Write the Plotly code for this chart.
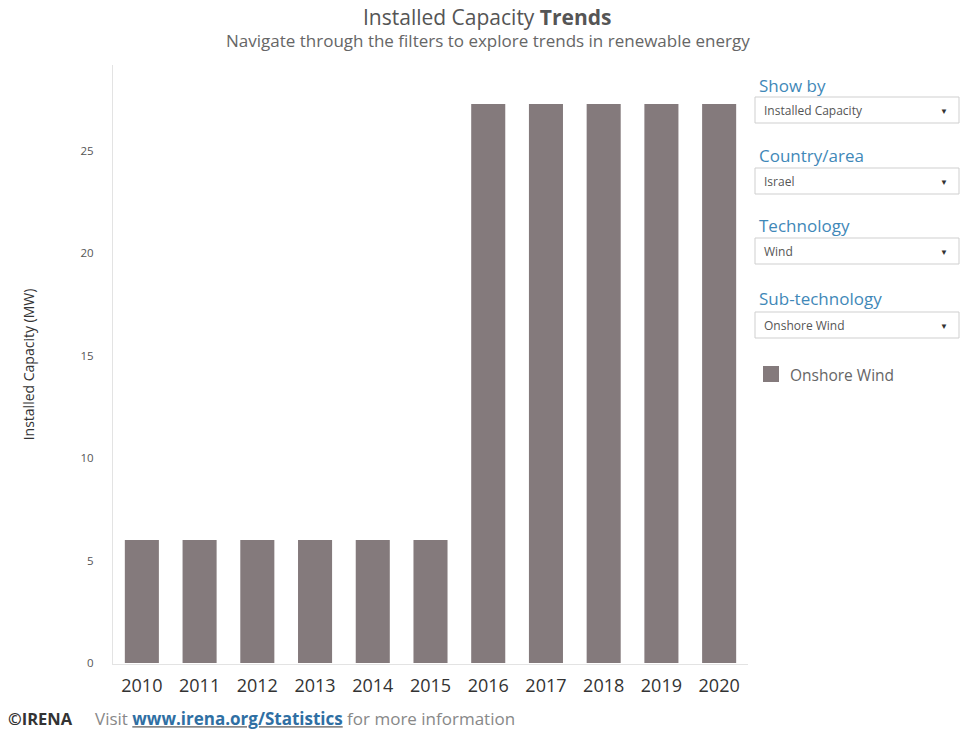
import plotly.graph_objects as go

years = ["2010", "2011", "2012", "2013", "2014", "2015", "2016", "2017", "2018", "2019", "2020"]
capacity_mw = [6, 6, 6, 6, 6, 6, 27.3, 27.3, 27.3, 27.3, 27.3]
series_name = "Onshore Wind"
y_ticks = [0, 5, 10, 15, 20, 25]

filters = [
    ("Show by", "Installed Capacity"),
    ("Country/area", "Israel"),
    ("Technology", "Wind"),
    ("Sub-technology", "Onshore Wind"),
]

W, H = 960, 731
L, R, T, B = 113, 748, 65, 664
FONT = "Open Sans"
BAR = "#847a7c"


def px(x):
    return (x - L) / (R - L)


def py(y):
    return (B - y) / (B - T)


fig = go.Figure()
fig.add_trace(go.Bar(
    x=years, y=capacity_mw, name=series_name,
    marker=dict(color=BAR, line=dict(width=0)),
    width=0.59, showlegend=False,
))

annotations = []
shapes = []

# Filter panel
label_y = [86, 156, 225, 298]
box_top = [97, 168, 238, 312]
box_h = 26
for (lab, val), ly, bt in zip(filters, label_y, box_top):
    annotations.append(dict(
        text=lab, xref="paper", yref="paper", x=px(757), y=py(ly),
        xanchor="left", yanchor="middle", showarrow=False,
        font=dict(family=FONT, size=17, color="#3f88b8"),
    ))
    shapes.append(dict(
        type="rect", xref="paper", yref="paper",
        x0=px(755), x1=px(959), y0=py(bt), y1=py(bt + box_h),
        line=dict(color="#cfcfcf", width=1), fillcolor="white", layer="above",
    ))
    annotations.append(dict(
        text=val, xref="paper", yref="paper", x=px(762), y=py(bt + box_h / 2),
        xanchor="left", yanchor="middle", showarrow=False,
        font=dict(family=FONT, size=12, color="#555555"),
    ))
    annotations.append(dict(
        text="▼", xref="paper", yref="paper", x=px(944), y=py(bt + box_h / 2),
        xanchor="center", yanchor="middle", showarrow=False,
        font=dict(family=FONT, size=8, color="#333333"),
    ))

# Legend (swatch + label)
shapes.append(dict(
    type="rect", xref="paper", yref="paper",
    x0=px(763), x1=px(779), y0=py(366), y1=py(382),
    line=dict(width=0), fillcolor=BAR, layer="above",
))
annotations.append(dict(
    text=series_name, xref="paper", yref="paper", x=px(788), y=py(375),
    xanchor="left", yanchor="middle", showarrow=False,
    font=dict(family=FONT, size=15.5, color="#666666"),
))

# Title and subtitle
annotations.append(dict(
    text="Installed Capacity <b>Trends</b>", xref="paper", yref="paper",
    x=px(487), y=py(17), xanchor="center", yanchor="middle", showarrow=False,
    font=dict(family=FONT, size=21, color="#555555"),
))
annotations.append(dict(
    text="Navigate through the filters to explore trends in renewable energy",
    xref="paper", yref="paper", x=px(488), y=py(41), xanchor="center",
    yanchor="middle", showarrow=False,
    font=dict(family=FONT, size=17, color="#666666"),
))

# Footer
annotations.append(dict(
    text="<b>©IRENA</b>", xref="paper", yref="paper", x=px(6), y=py(718),
    xanchor="left", yanchor="middle", showarrow=False,
    font=dict(family=FONT, size=16.5, color="#333333"),
))
annotations.append(dict(
    text="Visit <b><u><span style='color:#2f6fa3'>www.irena.org/Statistics</span></u></b> for more information",
    xref="paper", yref="paper", x=px(93), y=py(718),
    xanchor="left", yanchor="middle", showarrow=False,
    font=dict(family=FONT, size=17, color="#888888"),
))

fig.update_layout(
    width=W, height=H,
    margin=dict(l=L, r=W - R, t=T, b=H - B, pad=0),
    paper_bgcolor="white", plot_bgcolor="white",
    font=dict(family=FONT, color="#555555"),
    bargap=0.41,
    annotations=annotations,
    shapes=shapes,
    showlegend=False,
    xaxis=dict(
        type="category", showgrid=False, showline=True, linecolor="#e3e3e3",
        linewidth=1, ticks="", tickfont=dict(family=FONT, size=18, color="#333333"),
        ticklabelstandoff=5, zeroline=False, fixedrange=True,
    ),
    yaxis=dict(
        range=[-0.05, 29.2], tickvals=y_ticks, showgrid=False, showline=True,
        linecolor="#e3e3e3", linewidth=1, ticks="", zeroline=False,
        tickfont=dict(family=FONT, size=11.5, color="#555555"),
        ticklabelstandoff=16,
        title=dict(text="Installed Capacity (MW)", standoff=42,
                   font=dict(family=FONT, size=14, color="#333333")),
    ),
)

fig.write_html(
    "out.html",
    config={"displayModeBar": False},
    post_script="document.body.style.margin='0';document.body.style.overflow='hidden';",
)
